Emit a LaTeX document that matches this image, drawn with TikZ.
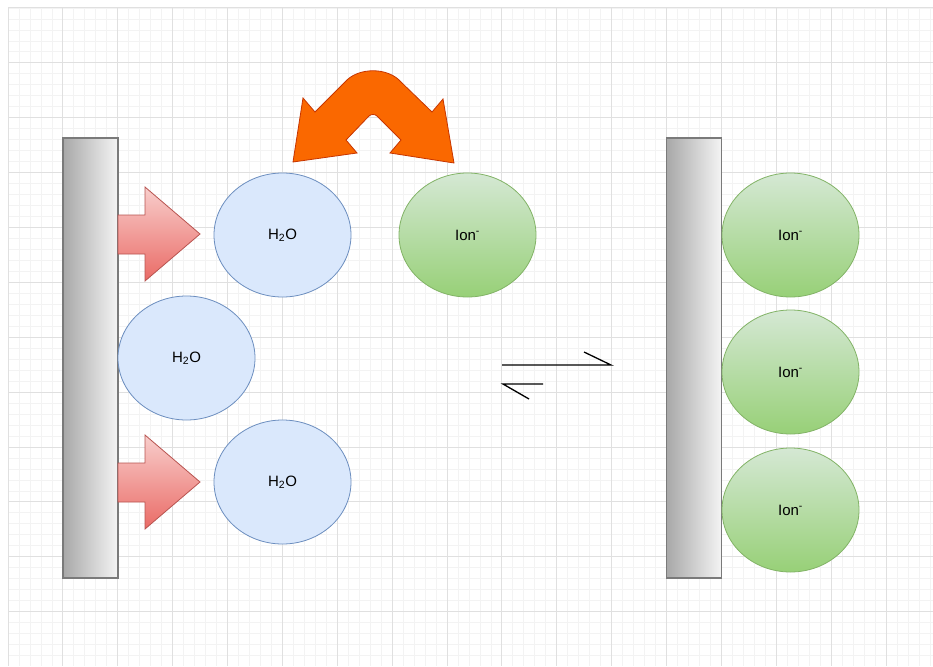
\documentclass[tikz,border=0pt]{standalone}
\usepackage{fontspec}
\setmainfont{Liberation Sans}
\usetikzlibrary{shapes.geometric}
\definecolor{gridminor}{HTML}{F3F3F3}
\definecolor{gridmajor}{HTML}{E0E0E0}
\definecolor{hfill}{HTML}{DAE8FC}
\definecolor{hdraw}{HTML}{6C8EBF}
\definecolor{itop}{HTML}{D5E8D4}
\definecolor{ibot}{HTML}{97D077}
\definecolor{idraw}{HTML}{82B366}
\definecolor{rtop}{HTML}{F8CECC}
\definecolor{rbot}{HTML}{EA6B66}
\definecolor{rdraw}{HTML}{B85450}
\definecolor{ofill}{HTML}{FA6800}
\definecolor{odraw}{HTML}{C73500}
\definecolor{pleft}{HTML}{A8A8A8}
\definecolor{pright}{HTML}{F4F4F4}
\definecolor{pdraw}{HTML}{7A7A7A}
\tikzset{
  minorline/.style={draw=gridminor, line width=0.8pt},
  majorline/.style={draw=gridmajor, line width=1pt},
  water/.style={ellipse, draw=hdraw, fill=hfill, line width=0.8pt, minimum width=137pt, minimum height=124pt, inner sep=0pt, font=\fontsize{15}{17}\selectfont},
  ion/.style={ellipse, draw=idraw, top color=itop, bottom color=ibot, line width=0.8pt, minimum width=137pt, minimum height=124pt, inner sep=0pt, font=\fontsize{15}{17}\selectfont},
  plate/.style={rectangle, draw=pdraw, left color=pleft, right color=pright, line width=1.2pt, minimum width=55pt, minimum height=440pt, inner sep=0pt},
  redarrow/.style={draw=rdraw, top color=rtop, bottom color=rbot, line width=0.8pt, line join=miter},
  orangearrow/.style={draw=odraw, fill=ofill, line width=0.8pt, line join=miter},
  eqline/.style={draw=black, line width=1.3pt}
}
\begin{document}
\begin{tikzpicture}[x=1pt, y=-1pt]
\useasboundingbox (0,0) rectangle (933,666);
\fill[white] (0,0) rectangle (933,666);
% grid
\foreach \i in {0,...,84} {
  \pgfmathsetmacro{\xx}{8+\i*10.975}
  \draw[minorline] (\xx,8) -- (\xx,666);
}
\foreach \i in {0,...,59} {
  \pgfmathsetmacro{\yy}{8+\i*10.975}
  \draw[minorline] (8,\yy) -- (933,\yy);
}
\foreach \i in {0,...,16} {
  \pgfmathsetmacro{\xx}{8+\i*54.875}
  \draw[majorline] (\xx,8) -- (\xx,666);
}
\foreach \i in {0,...,11} {
  \pgfmathsetmacro{\yy}{8+\i*54.875}
  \draw[majorline] (8,\yy) -- (933,\yy);
}
% plates
\node[plate] (pl) at (90.5,358) {};
\node[plate] (pr) at (694,358) {};
% red arrows
\path[redarrow] (118,215) -- (145,215) -- (145,187) -- (200,234) -- (145,281) -- (145,254) -- (118,254) -- cycle;
\path[redarrow] (118,463) -- (145,463) -- (145,435) -- (200,482) -- (145,529) -- (145,502) -- (118,502) -- cycle;
% ellipses
\node[water] (h1) at (282.5,235) {H\textsubscript{2}O};
\node[water] (h2) at (186.5,358) {H\textsubscript{2}O};
\node[water] (h3) at (282.5,482) {H\textsubscript{2}O};
\node[ion] (i1) at (467.5,235) {Ion\textsuperscript{-}};
\node[ion] (i2) at (790.5,235) {Ion\textsuperscript{-}};
\node[ion] (i3) at (790.5,372) {Ion\textsuperscript{-}};
\node[ion] (i4) at (790.5,510) {Ion\textsuperscript{-}};
% orange double curved arrow
\path[orangearrow] (293,162) -- (303,98) -- (315,112) -- (345,82)
  .. controls (358,67) and (388,67) .. (401,82) -- (432,112)
  -- (443,99) -- (454,163) -- (390,153) -- (401,140) -- (377,116)
  .. controls (375,114) and (371,114) .. (369,116)
  -- (346,140) -- (357,153) -- cycle;
% equilibrium half arrows
\coordinate (eqa) at (502,365);
\coordinate (eqb) at (611,365);
\coordinate (eqc) at (584,352);
\coordinate (eqd) at (543,384);
\coordinate (eqe) at (503,384);
\coordinate (eqf) at (529,399);
\draw[eqline] (eqa) -- (eqb) -- (eqc);
\draw[eqline] (eqd) -- (eqe) -- (eqf);
\end{tikzpicture}
\end{document}
